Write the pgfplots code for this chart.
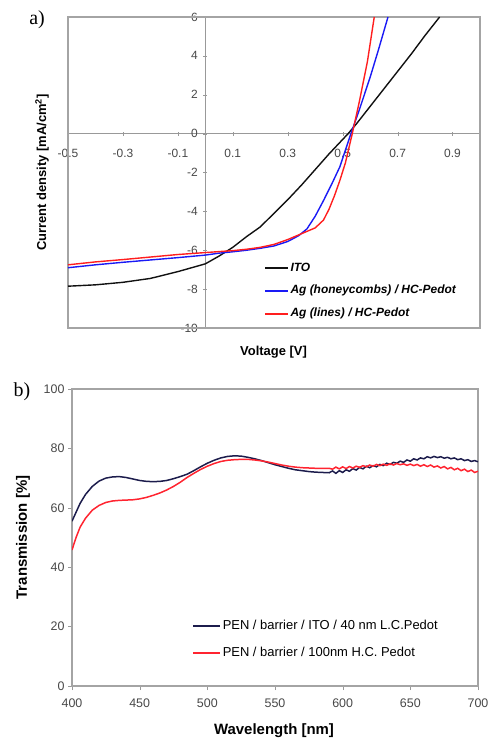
\documentclass[border=0pt]{standalone}
\usepackage{pgfplots}
\pgfplotsset{compat=1.18}
\usepackage{fontspec}
\setmainfont{Liberation Sans}
\newfontfamily\seriffont{Liberation Serif}
\definecolor{cblack}{HTML}{111111}
\definecolor{cblue}{HTML}{1A1AF5}
\definecolor{cred}{HTML}{FF1E1E}
\definecolor{cnavy}{HTML}{1C1C4C}
\definecolor{cred2}{HTML}{FF2430}
\definecolor{framegray}{HTML}{A4A4A4}
\definecolor{tickgray}{HTML}{484848}

\pgfplotstableread{
x y
-0.5 -7.85
-0.4 -7.78
-0.3 -7.65
-0.2 -7.45
-0.1 -7.1
-0.05 -6.9
0 -6.7
0.05 -6.3
0.1 -5.85
0.15 -5.3
0.2 -4.8
0.25 -4.1
0.3 -3.4
0.35 -2.65
0.4 -1.85
0.45 -1.05
0.5 -0.3
0.52 0
0.55 0.5
0.6 1.4
0.65 2.3
0.7 3.2
0.75 4.1
0.8 5.05
0.853 6.0
}\ito

\pgfplotstableread{
x y
-0.5 -6.9
-0.4 -6.75
-0.3 -6.62
-0.2 -6.5
-0.1 -6.38
0 -6.25
0.05 -6.15
0.1 -6.08
0.15 -6.0
0.2 -5.9
0.25 -5.78
0.3 -5.55
0.34 -5.25
0.37 -4.9
0.40 -4.25
0.43 -3.45
0.46 -2.6
0.49 -1.7
0.53 0
0.56 1.2
0.60 2.9
0.63 4.3
0.665 6.0
}\honey

\pgfplotstableread{
x y
-0.5 -6.75
-0.4 -6.6
-0.3 -6.48
-0.2 -6.35
-0.1 -6.22
0 -6.12
0.05 -6.07
0.1 -6.02
0.15 -5.95
0.2 -5.85
0.25 -5.7
0.3 -5.45
0.35 -5.15
0.40 -4.85
0.43 -4.45
0.45 -3.9
0.47 -3.2
0.49 -2.4
0.51 -1.5
0.535 0
0.56 1.6
0.59 3.7
0.615 6.0
}\lines

\pgfplotstableread{
x y
400 55.5
403 58.5
406 61.5
410 64.5
415 67.2
420 69.0
425 70.0
430 70.4
435 70.5
440 70.2
445 69.7
450 69.2
455 68.9
460 68.8
465 68.9
470 69.2
475 69.8
480 70.5
485 71.3
490 72.5
495 73.8
500 75.0
505 76.0
510 76.8
515 77.3
520 77.5
525 77.4
530 77.0
535 76.5
540 75.9
545 75.2
550 74.5
555 73.9
560 73.3
565 72.8
570 72.5
575 72.2
580 72.0
585 71.9
590 71.8
592.5 72.4
595 71.6
597.5 72.5
600 71.9
602.5 72.8
605 72.3
607.5 73.2
610 72.7
612.5 73.6
615 73.1
617.5 74.0
620 73.5
622.5 74.2
625 73.8
627.5 74.6
630 74.2
632.5 75.0
635 74.6
637.5 75.3
640 75.0
642.5 75.7
645 75.3
647.5 76.1
650 75.7
652.5 76.5
655 76.1
657.5 76.8
660 76.5
662.5 77.2
665 76.8
667.5 77.3
670 76.9
672.5 77.2
675 76.7
677.5 77.0
680 76.5
682.5 76.8
685 76.2
687.5 76.5
690 75.9
692.5 76.2
695 75.6
697.5 75.9
700 75.5
}\tblack

\pgfplotstableread{
x y
400 45.8
403 50.0
406 53.5
410 56.5
415 59.2
420 60.8
425 61.8
430 62.3
435 62.5
440 62.6
445 62.7
450 63.0
455 63.5
460 64.2
465 65.0
470 66.0
475 67.2
480 68.6
485 70.2
490 71.6
495 72.9
500 74.0
505 74.9
510 75.6
515 76.0
520 76.2
525 76.3
530 76.3
535 76.1
540 75.8
545 75.4
550 74.9
555 74.4
560 74.0
565 73.7
570 73.5
575 73.4
580 73.3
585 73.3
590 73.3
592.5 73.0
595 73.7
597.5 73.1
600 73.8
602.5 73.2
605 73.9
607.5 73.4
610 74.0
612.5 73.6
615 74.2
617.5 73.8
620 74.4
622.5 74.0
625 74.6
627.5 74.2
630 74.7
632.5 74.3
635 74.8
637.5 74.4
640 74.9
642.5 74.5
645 74.8
647.5 74.3
650 74.7
652.5 74.2
655 74.6
657.5 74.0
660 74.5
662.5 73.9
665 74.4
667.5 73.7
670 74.1
672.5 73.4
675 73.9
677.5 73.1
680 73.6
682.5 72.8
685 73.3
687.5 72.5
690 73.0
692.5 72.2
695 72.7
697.5 71.9
700 72.3
}\tred

\begin{document}
\begin{tikzpicture}[x=1bp,y=1bp]
\path[use as bounding box] (0,0) rectangle (488,738);

% ---------------- panel a ----------------
\begin{axis}[
  at={(68bp,410bp)}, anchor=south west,
  scale only axis, width=412bp, height=311bp,
  axis lines=middle,
  axis line style={draw=gray!80, -},
  xmin=-0.5, xmax=1.0, ymin=-10, ymax=6,
  xtick={-0.5,-0.3,-0.1,0.1,0.3,0.5,0.7,0.9},
  xticklabels={-0.5,-0.3,-0.1,0.1,0.3,0.5,0.7,0.9},
  ytick={-10,-8,-6,-4,-2,0,2,4,6},
  yticklabels={-10,-8,-6,-4,-2,0,2,4,6},
  hide obscured x ticks=false, hide obscured y ticks=false,
  tick style={draw=gray!80},
  major tick length=4bp,
  tick label style={font=\fontsize{12}{13}\selectfont, text=tickgray},
  xticklabel style={yshift=-10bp},
  yticklabel style={xshift=-2bp},
  every axis x label/.style={at={(axis description cs:0.4988,-0.0772)}, anchor=center, font=\bfseries\fontsize{13}{15}\selectfont},
  every axis y label/.style={at={(axis description cs:-0.063,0.5)}, rotate=90, anchor=center, font=\bfseries\fontsize{13}{15}\selectfont},
  xlabel={Voltage [V]},
  ylabel={Current density [mA/cm\textsuperscript{2}]},
  legend cell align=left,
  legend image code/.code={\path[draw=.,#1] (0bp,0bp) -- (23bp,0bp);},
  legend style={draw=none, fill=none, at={(axis description cs:0.476,0.119)}, anchor=west,
    font=\bfseries\itshape\fontsize{12}{14}\selectfont, row sep=8.5bp, inner sep=0pt,
    nodes={inner sep=1.2bp, text height=9bp, text depth=3bp}},
  clip=false,
]
\draw[framegray, line width=1.1pt] (rel axis cs:0,0) -- (rel axis cs:1,0) -- (rel axis cs:1,1) -- (rel axis cs:0,1) -- cycle;
\addplot[cblack, line width=1.4pt, legend image post style={line width=2pt}] table[x=x,y=y] {\ito};
\addlegendentry{ITO}
\addplot[cblue, line width=1.4pt, legend image post style={line width=2pt}] table[x=x,y=y] {\honey};
\addlegendentry{Ag (honeycombs) / HC-Pedot}
\addplot[cred, line width=1.4pt, legend image post style={line width=2pt}] table[x=x,y=y] {\lines};
\addlegendentry{Ag (lines) / HC-Pedot}
\end{axis}

% ---------------- panel b ----------------
\begin{axis}[
  at={(72bp,52bp)}, anchor=south west,
  scale only axis, width=406bp, height=297bp,
  xmin=400, xmax=700, ymin=0, ymax=100,
  xtick={400,450,...,700}, ytick={0,20,...,100},
  axis line style={draw=framegray, line width=1.1pt},
  xtick pos=bottom, ytick pos=left, tick align=outside,
  tick style={draw=gray!80},
  major tick length=4bp,
  /pgf/number format/assume math mode=true,
  tick label style={font=\fontsize{12.5}{13}\selectfont, text=tickgray},
  xticklabel style={yshift=-5bp},
  every axis x label/.style={at={(axis description cs:0.4975,-0.1515)}, anchor=center, font=\bfseries\fontsize{15}{17}\selectfont},
  every axis y label/.style={at={(axis description cs:-0.1207,0.5)}, rotate=90, anchor=center, font=\bfseries\fontsize{15}{17}\selectfont},
  xlabel={Wavelength [nm]},
  ylabel={Transmission [\%]},
  legend cell align=left,
  legend image code/.code={\path[draw=.,#1] (0bp,0bp) -- (27bp,0bp);},
  legend style={draw=none, fill=none, at={(axis description cs:0.296,0.1566)}, anchor=west,
    font=\fontsize{13}{15}\selectfont, row sep=12bp, inner sep=0pt,
    nodes={inner sep=1.2bp, text height=10bp, text depth=3bp}},
]
\addplot[cnavy, line width=1.5pt, legend image post style={line width=2.2pt}] table[x=x,y=y] {\tblack};
\addlegendentry{PEN / barrier / ITO / 40 nm L.C.Pedot}
\addplot[cred2, line width=1.5pt, legend image post style={line width=2.2pt}] table[x=x,y=y] {\tred};
\addlegendentry{PEN / barrier / 100nm H.C. Pedot}
\end{axis}

\node[font=\seriffont\fontsize{20}{22}\selectfont] at (37,718) {a)};
\node[font=\seriffont\fontsize{20}{22}\selectfont] at (22,346) {b)};
\end{tikzpicture}
\end{document}
